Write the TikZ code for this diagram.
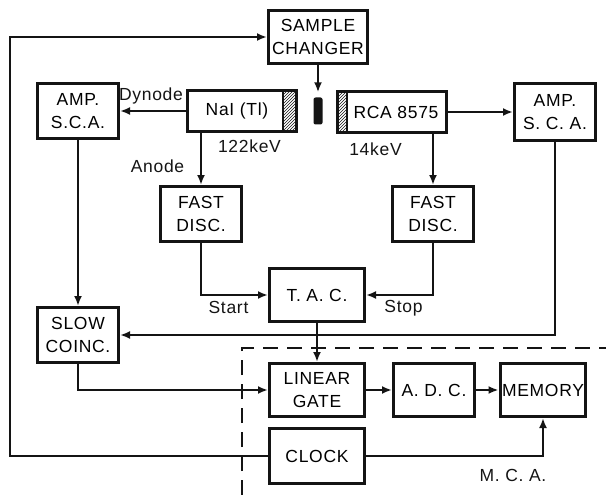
\documentclass[tikz,border=0pt]{standalone}
\usepackage{fontspec}
\setmainfont{Liberation Sans}[LetterSpace=4]
\definecolor{ink}{RGB}{20,20,20}
\usetikzlibrary{arrows.meta,patterns}
\newcommand{\blockfont}{\fontsize{17.5}{23}\selectfont}
\tikzset{
  box/.style={draw=ink, line width=3pt, fill=white, inner sep=2pt,
              font=\blockfont, align=center, minimum width=81pt, minimum height=55pt},
  tube/.style={box, minimum width=109pt, minimum height=41pt},
  tag/.style={font=\blockfont, text=ink, inner sep=1pt},
  flow/.style={-{Latex[length=10pt,width=8pt]}, ink, line width=2pt},
  wire/.style={ink, line width=2pt},
  hatch/.style={pattern=north east lines, pattern color=ink},
}

\begin{document}
\begin{tikzpicture}[x=1pt, y=-1pt]
  \useasboundingbox (0,0) rectangle (606,495);
  % blocks
  \node[box, minimum width=99pt, minimum height=53pt] (changer) at (318,37) {SAMPLE\\CHANGER};
  \node[fill=ink, rounded corners=2pt, minimum width=9pt, minimum height=27pt, inner sep=0pt] (sample) at (318,111) {};
  \node[box] (ampL) at (78,111) {AMP.\\S.C.A.};
  \node[tube, path picture={
      \fill[hatch] ([xshift=-14pt]path picture bounding box.north east) rectangle (path picture bounding box.south east);
      \draw[wire] ([xshift=-14pt]path picture bounding box.north east) -- ([xshift=-14pt]path picture bounding box.south east);}]
    (nai) at (242,111) {NaI (Tl)\hspace{10pt}};
  \node[tube, path picture={
      \fill[hatch] (path picture bounding box.north west) rectangle ([xshift=9pt]path picture bounding box.south west);
      \draw[wire] ([xshift=9pt]path picture bounding box.north west) -- ([xshift=9pt]path picture bounding box.south west);}]
    (rca) at (392,112) {\hspace{8pt}RCA 8575};
  \node[box, minimum height=57pt] (ampR) at (555,112) {AMP.\\S. C. A.};
  \node[box] (discL) at (201,214) {FAST\\DISC.};
  \node[box] (discR) at (433,214) {FAST\\DISC.};
  \node[box, minimum width=95pt, minimum height=53pt] (tac) at (317,295) {T. A. C.};
  \node[box] (slow) at (78,335) {SLOW\\COINC.};
  \node[box, minimum width=95pt, minimum height=53pt] (gate) at (317,390) {LINEAR\\GATE};
  \node[box, minimum height=53pt] (adc) at (434,390) {A. D. C.};
  \node[box, minimum height=53pt] (memory) at (543,390) {MEMORY};
  \node[box, minimum width=95pt] (clock) at (317,456) {CLOCK};
  % labels
  \node[tag] (dyn) at (151,96) {Dynode};
  \node[tag] (anode) at (157.5,166.5) {Anode};
  \node[tag] (eHigh) at (249.5,146.5) {122keV};
  \node[tag] (eLow) at (375.5,149) {14keV};
  \node[tag] (start) at (228.5,307) {Start};
  \node[tag] (stop) at (403.5,308) {Stop};
  \node[tag] (mca) at (513,475.5) {M. C. A.};
  % connectors
  \coordinate (ret) at (10,456);
  \draw[flow, shorten >=5pt] (changer.south) -- (changer.south |- sample.north);
  \draw[flow] (nai.west) -- (ampL.east);
  \draw[flow] (rca.east) -- (rca.east -| ampR.west);
  \draw[flow] (discL.north |- nai.south) -- (discL.north);
  \draw[flow] (discR.north |- rca.south) -- (discR.north);
  \draw[flow] (discL.south) |- (tac.west);
  \draw[flow] (discR.south) |- (tac.east);
  \draw[flow] (ampL.south) -- (slow.north);
  \draw[flow] (ampR.south) |- (slow.east);
  \draw[flow] (tac.south) -- (tac.south |- gate.north);
  \draw[flow] (slow.south) |- (gate.west);
  \draw[flow] (gate.east) -- (adc.west);
  \draw[flow] (adc.east) -- (memory.west);
  \draw[flow] (clock.east) -| (memory.south);
  \draw[flow] (clock.west) -- (ret) |- (changer.west);
  % analyser boundary
  \draw[ink, line width=2pt, dash pattern=on 15pt off 9pt] (242,495) -- (242,348) -- (606,348);
\end{tikzpicture}
\end{document}
